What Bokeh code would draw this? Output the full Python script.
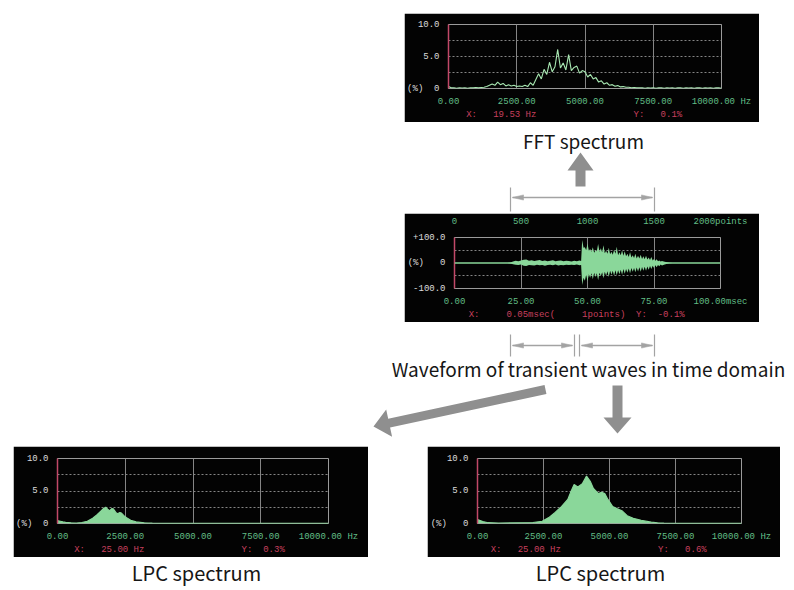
import numpy as np
from bokeh.plotting import figure
from bokeh.models import Range1d, LinearAxis, FixedTicker, Span, Spacer
from bokeh.layouts import column, row
from bokeh.embed import file_html
from bokeh.resources import INLINE
from bokeh.core.properties import value

NB = "\u00a0"

# ---------------- data ----------------
# FFT spectrum (Hz, %)
fft_freq = list(range(0, 10001, 100))
fft_pct = [0.3, 0.1, 0.1, 0.05, 0.1, 0.08, 0.1, 0.05, 0.1, 0.1,
           0.15, 0.1, 0.15, 0.2, 0.3, 0.5, 0.7, 0.5, 1.0, 0.6,
           0.8, 0.4, 0.6, 0.4, 0.5, 0.3, 0.4, 0.3, 0.5, 0.3,
           0.9, 0.5, 1.4, 2.3, 1.5, 3.0, 2.2, 4.1, 2.6, 3.4,
           6.1, 3.2, 4.0, 2.9, 5.3, 2.8, 3.3, 3.5, 2.4, 2.8,
           2.6, 1.8, 2.2, 1.5, 1.7, 1.0, 1.2, 0.7, 0.9, 0.5,
           0.6, 0.35, 0.45, 0.25, 0.3, 0.2, 0.2, 0.12, 0.15, 0.1,
           0.12, 0.1, 0.05, 0.1, 0.08, 0.1, 0.05, 0.1, 0.1, 0.05,
           0.1, 0.08, 0.1, 0.05, 0.1, 0.1, 0.05, 0.1, 0.08, 0.1,
           0.05, 0.1, 0.1, 0.05, 0.1, 0.08, 0.1, 0.05, 0.1, 0.1, 0.05]

# Transient waveform envelope (msec, %)
wave_t = ([0] + list(range(20, 48)) + [47.6] + [48 + 0.5 * i for i in range(61)]
          + [79, 80, 81, 82, 100])
wave_hi = [0,
           0, 2, 6, 9, 7, 10, 13, 14, 9, 11, 8, 10, 12, 8, 10, 7, 9, 11, 7, 9, 10, 7, 9, 8, 6, 9, 7, 10,
           8,
           90, 60, 62, 50, 76, 48, 55, 44, 62, 40, 50, 46, 75, 44, 58, 42, 70, 38, 48, 36,
           60, 34, 44, 32, 52, 36, 64, 30, 42, 30, 50, 28, 46, 26, 36, 24, 42, 22, 30, 20,
           36, 18, 28, 18, 32, 16, 26, 15, 28, 14, 22, 12, 24, 10, 16, 9, 15, 7, 10, 6, 8,
           5, 3, 1, 0, 0]
wave_lo = [0,
           0, -2, -5, -7, -8, -6, -11, -12, -8, -9, -10, -7, -9, -8, -11, -8, -7, -9, -6, -10, -8,
           -9, -7, -8, -7, -8, -6, -9,
           -8,
           -86, -58, -70, -46, -72, -44, -58, -40, -64, -38, -55, -40, -68, -38, -52, -36, -60, -34,
           -50, -32, -55, -30, -46, -30, -50, -28, -48, -28, -44, -26, -46, -24, -42, -24, -38, -22,
           -40, -20, -34, -20, -36, -18, -33, -17, -34, -16, -30, -15, -30, -14, -26, -12, -24, -11,
           -20, -9, -17, -8, -13, -6, -10,
           -6, -3, -1, 0, 0]

# LPC spectrum, left panel (Hz, %)
lpc1_freq = [0, 100, 200, 300, 500, 700, 900, 1100, 1300, 1450, 1600, 1700, 1780, 1850,
             1920, 2000, 2060, 2150, 2220, 2300, 2360, 2450, 2550, 2700, 2900, 3200, 3500,
             4000, 10000]
lpc1_pct = [0.45, 0.35, 0.25, 0.18, 0.1, 0.08, 0.15, 0.35, 0.8, 1.3, 1.9, 2.3, 2.5, 2.2,
            1.95, 2.3, 2.25, 1.7, 1.5, 1.7, 1.6, 1.2, 0.9, 0.5, 0.25, 0.1, 0.05,
            0.03, 0.02]

# LPC spectrum, right panel (Hz, %)
lpc2_freq = [0, 100, 200, 400, 800, 1500, 2100, 2450, 2700, 2940, 3180, 3420, 3550, 3660,
             3800, 3970, 4130, 4270, 4390, 4580, 4700, 4820, 4940, 5120, 5300, 5490, 5670,
             5900, 6200, 6580, 6820, 7060, 7500, 10000]
lpc2_pct = [0.6, 0.45, 0.3, 0.12, 0.08, 0.1, 0.15, 0.35, 0.9, 1.7, 2.6, 3.7, 5.0, 6.0,
            5.6, 6.1, 7.3, 6.5, 5.4, 4.6, 4.8, 4.6, 3.7, 2.6, 2.25, 1.9, 1.2,
            0.8, 0.5, 0.2, 0.1, 0.05, 0.02, 0.02]

# tick labels
spec_xticks = [0, 2500, 5000, 7500, 10000]
spec_xlabels = ["0.00", "2500.00", "5000.00", "7500.00", "10000.00" + NB + "Hz"]
spec_yticks = [0, 5, 10]
spec_ylabels2 = ["(%)" + NB * 2 + "0", "5.0", "10.0"]
spec_ylabels3 = ["(%)" + NB * 3 + "0", "5.0", "10.0"]
wave_xticks = [0, 25, 50, 75, 100]
wave_xlabels = ["0.00", "25.00", "50.00", "75.00", "100.00msec"]
wave_pticks = [0, 500, 1000, 1500, 2000]
wave_plabels = ["0", "500", "1000", "1500", "2000points"]
wave_yticks = [-100, 0, 100]
wave_ylabels = ["-100.0", "(%)" + NB * 3 + "0", "+100.0"]

# cursor read-outs
fft_readout = ["X:", "19.53 Hz", "Y:", "0.1%"]
wave_readout = ["X:", "0.05msec(", "1points)", "Y:", "-0.1%"]
lpc1_readout = ["X:", "25.00 Hz", "Y:", "0.3%"]
lpc2_readout = ["X:", "25.00 Hz", "Y:", "0.6%"]

# ---------------- style ----------------
MONO = "Liberation Mono"
SANS = "Noto Sans CJK JP"
CW = 5.4  # monospace char width at 9px
BG = "#030303"
GRID = "#858585"
OUTL = "#9a9a9a"
REDL = "#c24868"
GTXT = "#62be86"
WTXT = "#dcdcdc"
RTXT = "#c8405e"
FILL = "#8ad79a"
LINE = "#a8e8b2"
ARROW = "#8f8f8f"
THIN = "#a3a3a3"
INK = "#161616"


def readout_text(pieces, offs, frame_w):
    cols = [round((o - offs[0]) / CW) for o in offs]
    s = ""
    for piece, col in zip(pieces, cols):
        gap = col - len(s)
        if s:
            s += NB * max(gap, 1)
        s += piece.replace(" ", NB)
    k = round((frame_w - 2 * offs[0]) / CW - len(s))
    return s + NB * k if k > 0 else NB * (-k) + s


def scope(width, height, xr, yr, bl, br, bt, bb, xticks, xlabels, yticks, ylabels,
          xgrid, ygrid, readout, readout_dx):
    p = figure(width=width, height=height, x_range=xr, y_range=yr,
               output_backend="svg", toolbar_location=None,
               min_border_left=bl, min_border_right=br, min_border_top=bt, min_border_bottom=bb,
               background_fill_color=BG, border_fill_color=BG,
               outline_line_color=OUTL, outline_line_width=1)
    frame_w = width - bl - br
    xa = p.xaxis[0]
    xa.ticker = FixedTicker(ticks=xticks)
    xa.major_label_overrides = {t: s for t, s in zip(xticks, xlabels)}
    xa.axis_line_color = None
    xa.major_tick_line_color = None
    xa.minor_tick_line_color = None
    xa.major_label_standoff = 2
    xa.major_label_text_font = MONO
    xa.major_label_text_font_size = "9px"
    xa.major_label_text_color = GTXT
    xa.axis_label = readout_text(readout, readout_dx, frame_w)
    xa.axis_label_standoff = 0
    xa.axis_label_text_font = MONO
    xa.axis_label_text_font_size = "9px"
    xa.axis_label_text_font_style = "normal"
    xa.axis_label_text_color = RTXT
    ya = p.yaxis[0]
    ya.ticker = FixedTicker(ticks=yticks)
    ya.major_label_overrides = {t: s for t, s in zip(yticks, ylabels)}
    ya.axis_line_color = REDL
    ya.axis_line_width = 1.5
    ya.major_tick_line_color = None
    ya.minor_tick_line_color = None
    ya.major_label_standoff = 3
    ya.major_label_text_font = MONO
    ya.major_label_text_font_size = "9px"
    ya.major_label_text_color = WTXT
    p.xgrid.ticker = FixedTicker(ticks=xgrid)
    p.xgrid.grid_line_color = GRID
    p.xgrid.grid_line_width = 1
    p.ygrid.ticker = FixedTicker(ticks=ygrid)
    p.ygrid.grid_line_color = GRID
    p.ygrid.grid_line_dash = "2 2"
    p.ygrid.grid_line_width = 1
    return p


# FFT panel
fft = scope(355, 109, Range1d(0, 10000), Range1d(0, 10), 41, 38, 11, 23,
            spec_xticks, spec_xlabels, spec_yticks, spec_ylabels2,
            [2500, 5000, 7500], [2.5, 5, 7.5], fft_readout, [18, 45, 185, 212])
fft.line(fft_freq, fft_pct, line_color=LINE, line_width=1.1)

# Waveform panel
wav = scope(355, 109, Range1d(0, 100), Range1d(-100, 100), 40, 39, 17, 25,
            wave_xticks, wave_xlabels, wave_yticks, wave_ylabels,
            [25, 50, 75], [-50, 50], wave_readout, [19, 59, 131, 189, 209])
wav.extra_x_ranges = {"pts": Range1d(0, 2000)}
top = LinearAxis(x_range_name="pts", ticker=FixedTicker(ticks=wave_pticks),
                 major_label_overrides={t: s for t, s in zip(wave_pticks, wave_plabels)},
                 axis_line_color=None, major_tick_line_color=None, minor_tick_line_color=None,
                 major_label_standoff=5, major_label_text_font=MONO,
                 major_label_text_font_size="9px", major_label_text_color=GTXT)
wav.add_layout(top, "above")
wav.add_layout(Span(location=0, dimension="width", line_color=FILL, line_width=1.5))
wav.varea(x=wave_t, y1=wave_lo, y2=wave_hi, fill_color=FILL)

# LPC panels
lpc1 = scope(355, 111, Range1d(0, 10000), Range1d(0, 10), 40, 40, 12, 23,
             spec_xticks, spec_xlabels, spec_yticks, spec_ylabels2,
             [2500, 5000, 7500], [2.5, 5, 7.5], lpc1_readout, [19, 47, 184, 207])
lpc1.varea(x=lpc1_freq, y1=0, y2=lpc1_pct, fill_color=FILL)
lpc1.line(lpc1_freq, lpc1_pct, line_color=FILL, line_width=1.2)

lpc2 = scope(353, 111, Range1d(0, 10000), Range1d(0, 10), 39, 39, 12, 23,
             spec_xticks, spec_xlabels, spec_yticks, spec_ylabels3,
             [2500, 5000, 7500], [2.5, 5, 7.5], lpc2_readout, [19, 47, 184, 211])
lpc2.varea(x=lpc2_freq, y1=0, y2=lpc2_pct, fill_color=FILL)
lpc2.line(lpc2_freq, lpc2_pct, line_color=FILL, line_width=1.2)

PAGE_W = 792


# ---------------- connectors (page-pixel coordinates) ----------------
def canvas(y_top, y_bottom):
    c = figure(width=PAGE_W, height=y_bottom - y_top, x_range=Range1d(0, PAGE_W),
               y_range=Range1d(y_bottom, y_top), output_backend="svg",
               toolbar_location=None, min_border=0, x_axis_location=None,
               y_axis_location=None, background_fill_color="white",
               border_fill_color="white", outline_line_color=None)
    c.grid.visible = False
    return c


def thick_arrow(c, x0, y0, x1, y1, shaft_w, head_len, head_w):
    d = np.array([x1 - x0, y1 - y0], float)
    u = d / np.hypot(*d)
    n = np.array([-u[1], u[0]])
    s = np.array([x0, y0], float)
    t = np.array([x1, y1], float)
    b = t - head_len * u
    pts = [s + shaft_w / 2 * n, b + shaft_w / 2 * n, b + head_w / 2 * n, t,
           b - head_w / 2 * n, b - shaft_w / 2 * n, s - shaft_w / 2 * n]
    c.patch([q[0] for q in pts], [q[1] for q in pts], fill_color=ARROW, line_color=None)


def dbl_arrow(c, x0, x1, y):
    c.segment(x0=[x0 + 2], y0=[y], x1=[x1 - 2], y1=[y], line_color=THIN, line_width=1.3)
    c.patches([[x0 + 2, x0 + 13, x0 + 13], [x1 - 2, x1 - 13, x1 - 13]],
              [[y, y - 2.6, y + 2.6], [y, y - 2.6, y + 2.6]],
              fill_color=THIN, line_color=THIN, line_width=0.5)


def bars(c, xs, y0, y1):
    c.segment(x0=xs, y0=[y0] * len(xs), x1=xs, y1=[y1] * len(xs), line_color=THIN, line_width=1.2)


TXT = dict(text_font=value(SANS), text_align="center", text_baseline="middle", text_color=INK)

c1 = canvas(122, 213)
c1.text(x=[583], y=[140], text=["FFT spectrum"], text_font_size="19px", **TXT)
thick_arrow(c1, 580, 186, 580, 152, 10, 18, 26)
bars(c1, [510, 654], 187, 211)
dbl_arrow(c1, 510, 654, 197)

c2 = canvas(322, 446)
bars(c2, [510, 574, 579, 654], 334, 356)
dbl_arrow(c2, 510, 574, 345)
dbl_arrow(c2, 579, 654, 345)
c2.text(x=[588], y=[368], text=["Waveform of transient waves in time domain"],
        text_font_size="19px", **TXT)
thick_arrow(c2, 617, 385, 617, 433, 10, 16, 28)
thick_arrow(c2, 545, 389, 373, 426, 9, 16, 28)

c3 = canvas(557, 589)
c3.text(x=[196, 600], y=[572, 572], text=["LPC spectrum", "LPC spectrum"],
        text_font_size="20px", **TXT)

layout = column(
    Spacer(width=PAGE_W, height=13),
    row(Spacer(width=404, height=109), fft, Spacer(width=33, height=109)),
    c1,
    row(Spacer(width=404, height=109), wav, Spacer(width=33, height=109)),
    c2,
    row(Spacer(width=13, height=111), lpc1, Spacer(width=59, height=111), lpc2,
        Spacer(width=12, height=111)),
    c3,
)

open("out.html", "w").write(file_html(layout, INLINE))
